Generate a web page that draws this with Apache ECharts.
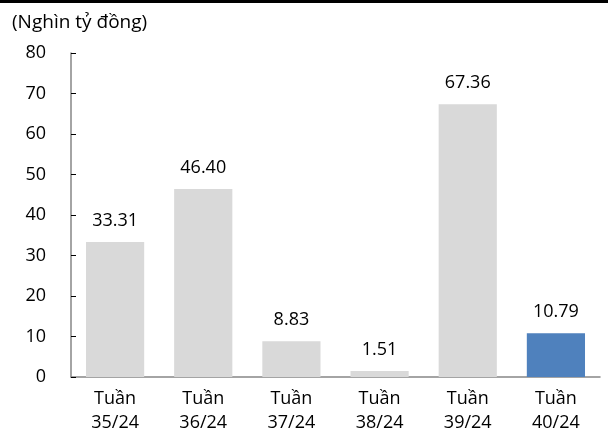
<!DOCTYPE html>
<html>
<head>
<meta charset="utf-8">
<script src="https://cdn.jsdelivr.net/npm/echarts@6/dist/echarts.min.js"></script>
<style>
html,body{margin:0;padding:0;background:#fff;}
#topbar{position:absolute;left:0;top:0;width:608px;height:3px;background:#000;}
#chart{width:608px;height:441px;}
</style>
</head>
<body>
<div id="topbar"></div>
<div id="chart"></div>
<script>
const categories = ['Tuần\n35/24', 'Tuần\n36/24', 'Tuần\n37/24', 'Tuần\n38/24', 'Tuần\n39/24', 'Tuần\n40/24'];
const values = [33.31, 46.40, 8.83, 1.51, 67.36, 10.79];
const barColors = ['#d9d9d9', '#d9d9d9', '#d9d9d9', '#d9d9d9', '#d9d9d9', '#4f81bd'];
const unitLabel = '(Nghìn tỷ đồng)';

const font = '"Open Sans", sans-serif';
const chart = echarts.init(document.getElementById('chart'));
chart.setOption({
  animation: false,
  grid: { left: 71, right: 8, top: 53, bottom: 64, containLabel: false },
  graphic: [{
    type: 'text', left: 12, top: 13,
    style: { text: unitLabel, font: '19px ' + font, fill: '#000' }
  }],
  xAxis: {
    type: 'category',
    data: categories,
    axisLine: { lineStyle: { color: '#868686', width: 1.5 } },
    axisTick: { show: false },
    axisLabel: { color: '#000', fontSize: 18, fontFamily: font, lineHeight: 24, margin: 10 }
  },
  yAxis: {
    type: 'value', min: 0, max: 80, interval: 10,
    splitLine: { show: false },
    axisLine: { show: true, lineStyle: { color: '#868686', width: 1.5 } },
    axisTick: { show: true, inside: true, length: 5, lineStyle: { color: '#000' } },
    axisLabel: { color: '#000', fontSize: 18, fontFamily: font, margin: 25, align: 'right' }
  },
  series: [{
    type: 'bar',
    data: values.map((v, i) => ({ value: v, itemStyle: { color: barColors[i] } })),
    barWidth: '66%',
    label: {
      show: true, position: 'top', distance: 12,
      color: '#000', fontSize: 18, fontFamily: font,
      formatter: p => p.value.toFixed(2)
    }
  }]
});
</script>
</body>
</html>
